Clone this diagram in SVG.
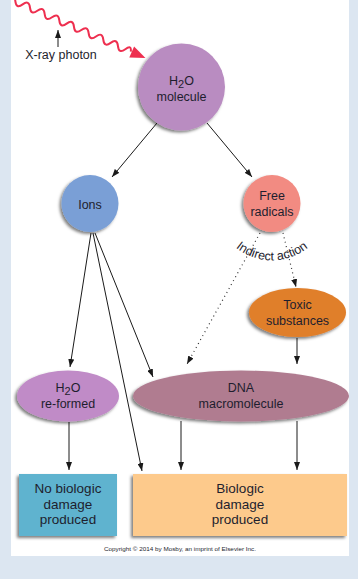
<svg xmlns="http://www.w3.org/2000/svg" width="358" height="579" viewBox="0 0 358 579">
<defs>
<filter id="sh" x="-20%" y="-20%" width="140%" height="140%">
<feDropShadow dx="-2" dy="2" stdDeviation="1.5" flood-color="#000" flood-opacity="0.5"/>
</filter>
<marker id="ah" markerUnits="userSpaceOnUse" markerWidth="8" markerHeight="6" refX="8" refY="3" orient="auto">
<path d="M0,0 L8,3 L0,6 z" fill="#1a1a1a"/>
</marker>
<path id="arcp" d="M 226.3 237.5 A 57 57 0 0 0 317.7 237.5" fill="none"/>
</defs>
<style>
text{font-family:"Liberation Sans",Arial,sans-serif;fill:#1e1e2e;text-anchor:middle}
.n{font-size:12.5px}
.b{font-size:13.5px}
.ln{stroke:#1a1a1a;stroke-width:1;fill:none;marker-end:url(#ah)}
.dt{stroke:#333;stroke-width:1.2;fill:none;stroke-dasharray:1 3.5;marker-end:url(#ah)}
.nd{filter:url(#sh)}
</style>
<rect x="0" y="0" width="358" height="579" fill="#dce6f1"/>
<rect x="11" y="0" width="338" height="556" fill="#ffffff"/>

<g id="xray">
<g transform="translate(8,-2) rotate(23.6)">
<path d="M0,0 q4,-7 8,0 t8,0 t8,0 t8,0 t8,0 t8,0 t8,0 t8,0 t8,0 t8,0 t8,0 t8,0 t8,0 t8,0 t8,0 t8,0 t6,0" fill="none" stroke="#ee2f4f" stroke-width="2"/>
<polygon points="135,-6 150,0 135,6" fill="#ee2f4f"/>
</g>
<line x1="58" y1="47" x2="58" y2="30" class="ln"/>
<text x="61" y="59" style="font-size:12.5px">X-ray photon</text>
</g>

<g id="connectors">
<line x1="157" y1="123" x2="112" y2="177" class="ln"/>
<line x1="207" y1="123" x2="252" y2="177" class="ln"/>
<line x1="91" y1="233" x2="70" y2="367" class="ln"/>
<line x1="93" y1="233" x2="142" y2="471" class="ln"/>
<line x1="95" y1="233" x2="153" y2="377" class="ln"/>
<line x1="260" y1="233" x2="187" y2="364" class="dt"/>
<line x1="283" y1="233" x2="296" y2="287" class="dt"/>
<line x1="297" y1="338" x2="297" y2="364" class="ln"/>
<line x1="69" y1="422" x2="69" y2="470" class="ln"/>
<line x1="181" y1="421" x2="181" y2="470" class="ln"/>
<line x1="297" y1="421" x2="297" y2="470" class="ln"/>
<text style="font-size:12.5px"><textPath href="#arcp" startOffset="50%">Indirect action</textPath></text>
</g>

<g id="h2o">
<circle cx="181.5" cy="87" r="43.5" fill="#b98cc1" class="nd"/>
<text x="181.5" y="85" class="n">H<tspan dy="3" style="font-size:11px">2</tspan><tspan dy="-3">O</tspan></text>
<text x="181.5" y="101" class="n">molecule</text>
</g>

<g id="ions">
<circle cx="90" cy="203.5" r="28.5" fill="#7a9fd6" class="nd"/>
<text x="90" y="209" class="n">Ions</text>
</g>

<g id="free">
<circle cx="272" cy="203.5" r="28.5" fill="#f28b82" class="nd"/>
<text x="272" y="199.5" class="n">Free</text>
<text x="272" y="216" class="n">radicals</text>
</g>

<g id="toxic">
<ellipse cx="297.5" cy="312.5" rx="48.5" ry="24.5" fill="#e07f2c" class="nd"/>
<text x="297.5" y="309" class="n">Toxic</text>
<text x="297.5" y="325" class="n">substances</text>
</g>

<g id="h2oref">
<ellipse cx="68" cy="396" rx="51" ry="25.5" fill="#c08bc7" class="nd"/>
<text x="68" y="392" class="n">H<tspan dy="3" style="font-size:11px">2</tspan><tspan dy="-3">O</tspan></text>
<text x="68" y="408" class="n">re-formed</text>
</g>

<g id="dna">
<ellipse cx="241" cy="396" rx="108" ry="25.5" fill="#b07b90" class="nd"/>
<text x="241" y="392" class="n">DNA</text>
<text x="241" y="408" class="n">macromolecule</text>
</g>

<g id="nobio">
<rect x="19" y="474" width="98" height="62" fill="#5eb3cf" class="nd"/>
<text x="68" y="493" class="b">No biologic</text>
<text x="68" y="508.5" class="b">damage</text>
<text x="68" y="524" class="b">produced</text>
</g>

<g id="bio">
<rect x="133" y="474" width="214" height="62" fill="#fdca8c" class="nd"/>
<text x="240" y="493" class="b">Biologic</text>
<text x="240" y="508.5" class="b">damage</text>
<text x="240" y="524" class="b">produced</text>
</g>

<text x="180" y="551" style="font-size:6px" textLength="152" lengthAdjust="spacingAndGlyphs">Copyright © 2014 by Mosby, an imprint of Elsevier Inc.</text>
</svg>
